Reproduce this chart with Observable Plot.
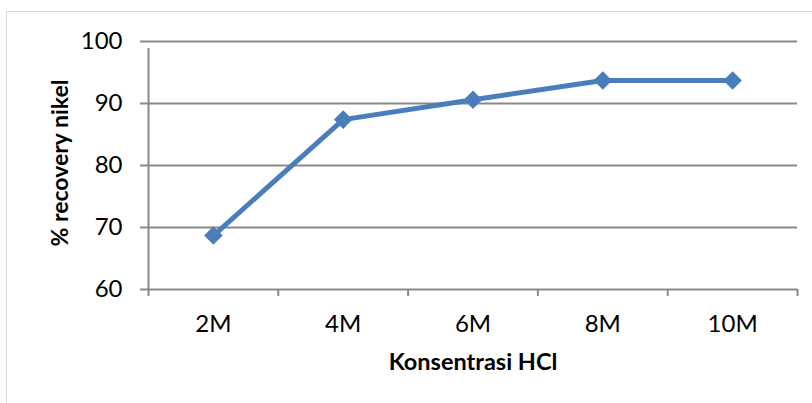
<!DOCTYPE html>
<html>
<head>
<meta charset="utf-8">
<script src="https://cdn.jsdelivr.net/npm/d3@7"></script>
<script src="https://cdn.jsdelivr.net/npm/@observablehq/plot@0.6"></script>
<style>
  html, body { margin: 0; padding: 0; background: #fff; overflow: hidden; }
  #wrap { position: relative; width: 812px; height: 403px; }
  #border { position: absolute; left: 6px; top: 11px; width: 900px; height: 500px; border: 1px solid #d9d9d9; box-sizing: border-box; pointer-events: none; }
  #chart { position: absolute; left: 0; top: 0; }
</style>
</head>
<body>
<div id="wrap"><div id="border"></div><div id="chart"></div></div>
<script>
const categories = ["2M", "4M", "6M", "8M", "10M"];
const recovery = [68.7, 87.4, 90.6, 93.7, 93.7];
const yTicks = [60, 70, 80, 90, 100];
const xTitle = "Konsentrasi HCl";
const yTitle = "% recovery nikel";

const data = categories.map((c, i) => ({i, c, v: recovery[i]}));
const idx = categories.map((c, i) => i);
const bounds = d3.range(categories.length + 1).map(i => i - 0.5);

const blue = "#4a7ebb";
const grid = "#898989";
const font = "Lato, 'Noto Sans', sans-serif";

const chart = Plot.plot({
  width: 812,
  height: 403,
  marginLeft: 148,
  marginRight: 15,
  marginTop: 41,
  marginBottom: 114,
  style: {fontFamily: font, background: "transparent", overflow: "visible"},
  x: {type: "linear", domain: [-0.5, categories.length - 0.5]},
  y: {domain: [60, 100]},
  marks: [
    Plot.gridY(yTicks, {stroke: grid, strokeOpacity: 1, strokeWidth: 2}),
    Plot.axisY(yTicks, {tickSize: 8, tickPadding: 18, stroke: grid, strokeWidth: 2, fontSize: 24, fill: "#000", label: null}),
    Plot.axisX(bounds, {tickSize: 7, stroke: grid, strokeWidth: 2, tickFormat: () => "", label: null}),
    Plot.axisX(idx, {tickSize: 0, tickPadding: 25, fontSize: 24, fill: "#000", tickFormat: i => categories[i], label: null}),
    Plot.ruleX([-0.5], {y1: 60, y2: 100, stroke: grid, strokeWidth: 2, insetBottom: -7}),
    Plot.line(data, {x: "i", y: "v", stroke: blue, strokeWidth: 5}),
    Plot.dot(data, {x: "i", y: "v", symbol: "square", rotate: 45, r: 7.4, fill: blue, stroke: "none"})
  ]
});
document.getElementById("chart").appendChild(chart);

// axis titles as real text
const svg = d3.select(chart);
svg.append("text")
  .attr("x", 473).attr("y", 370)
  .attr("text-anchor", "middle")
  .attr("font-family", font).attr("font-weight", "bold").attr("font-size", 23.5)
  .text(xTitle);
svg.append("text")
  .attr("transform", "translate(68,163) rotate(-90)")
  .attr("text-anchor", "middle")
  .attr("font-family", font).attr("font-weight", "bold").attr("font-size", 23)
  .text(yTitle);
</script>
</body>
</html>
